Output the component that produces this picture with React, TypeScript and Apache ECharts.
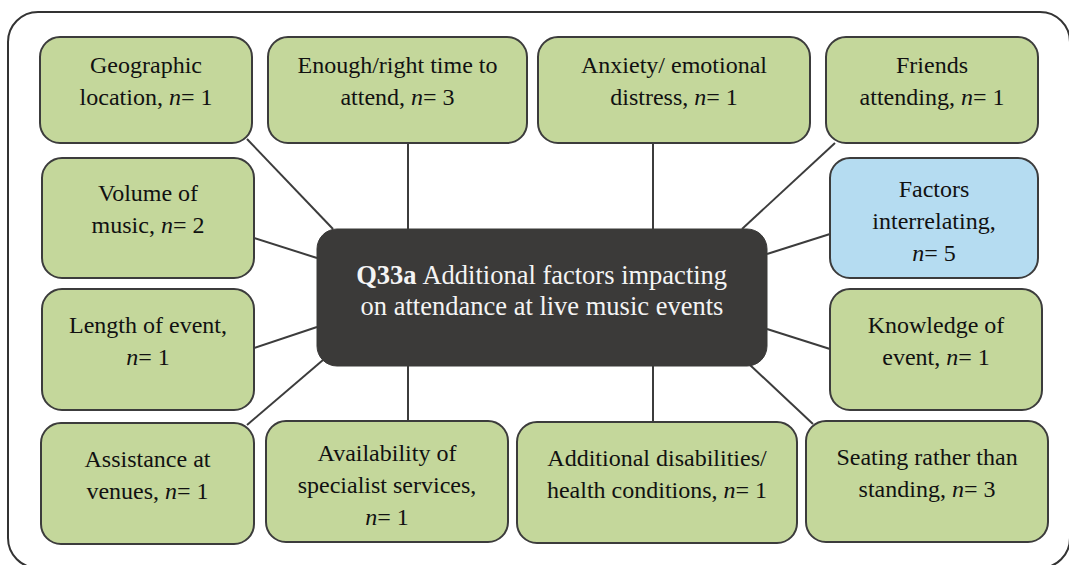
import React, { useEffect, useRef } from "react";
import * as echarts from "echarts";

// ---- Data ----
const centerCode = "Q33a";
const centerTitleLines = ["Additional factors impacting", "on attendance at live music events"];

const factorLabels = [
  "Geographic\nlocation",
  "Enough/right time to\nattend",
  "Anxiety/ emotional\ndistress",
  "Friends\nattending",
  "Volume of\nmusic",
  "Factors\ninterrelating",
  "Length of event",
  "Knowledge of\nevent",
  "Assistance at\nvenues",
  "Availability of\nspecialist services",
  "Additional disabilities/\nhealth conditions",
  "Seating rather than\nstanding",
];
const factorCounts = [1, 3, 1, 1, 2, 5, 1, 1, 1, 1, 1, 3];
const highlighted = [false, false, false, false, false, true, false, false, false, false, false, false];

// ---- Layout (positions / sizes) ----
const boxLayout = [
  { x: 40, y: 37, w: 212, h: 106, nBreak: false, link: [247, 139, 333, 229] },
  { x: 268, y: 37, w: 259, h: 106, nBreak: false, link: [408, 143, 408, 229] },
  { x: 538, y: 37, w: 272, h: 106, nBreak: false, link: [653, 143, 653, 229] },
  { x: 826, y: 37, w: 212, h: 106, nBreak: false, link: [835, 143, 742, 229] },
  { x: 42, y: 158, w: 212, h: 120, nBreak: false, link: [254, 238, 317, 258] },
  { x: 830, y: 158, w: 208, h: 120, nBreak: true, link: [767, 254, 830, 234] },
  { x: 42, y: 289, w: 212, h: 121, nBreak: true, link: [254, 348, 317, 327] },
  { x: 830, y: 289, w: 212, h: 121, nBreak: false, link: [767, 329, 830, 349] },
  { x: 41, y: 423, w: 213, h: 121, nBreak: false, link: [247, 425, 323, 360] },
  { x: 266, y: 421, w: 242, h: 121, nBreak: true, link: [408, 366, 408, 421] },
  { x: 517, y: 422, w: 280, h: 121, nBreak: false, link: [653, 366, 653, 422] },
  { x: 806, y: 421, w: 242, h: 121, nBreak: false, link: [813, 424, 750, 365] },
];
const centerBox = { x: 317, y: 229, w: 450, h: 137 };
const frame = { x: 8, y: 12, w: 1062, h: 556 };

const FONT = "Liberation Serif";
const GREEN = "#c4d79b";
const BLUE = "#b5dcf1";
const DARK = "#3b3a39";
const STROKE = "#3c3c3c";

export default function App() {
  const ref = useRef<HTMLDivElement>(null);

  useEffect(() => {
    if (!ref.current) return;
    const chart = echarts.init(ref.current, undefined, { renderer: "svg" });

    const elements: any[] = [];

    elements.push({
      type: "rect",
      shape: { x: frame.x, y: frame.y, width: frame.w, height: frame.h, r: 30 },
      style: { fill: "#ffffff", stroke: "#333333", lineWidth: 2 },
      z: 0,
    });

    boxLayout.forEach((b) => {
      const [x1, y1, x2, y2] = b.link;
      elements.push({
        type: "line",
        shape: { x1, y1, x2, y2 },
        style: { stroke: STROKE, lineWidth: 2 },
        z: 1,
      });
    });

    factorLabels.forEach((label, i) => {
      const b = boxLayout[i];
      elements.push({
        type: "rect",
        shape: { x: b.x, y: b.y, width: b.w, height: b.h, r: 20 },
        style: { fill: highlighted[i] ? BLUE : GREEN, stroke: STROKE, lineWidth: 2 },
        z: 2,
      });
      const text = label + "," + (b.nBreak ? "\n" : " ") + "{i|n}= " + factorCounts[i];
      const lines = text.split("\n").length;
      const cy = b.y + b.h / 2;
      elements.push({
        type: "text",
        x: b.x + b.w / 2,
        y: cy - (lines === 3 ? 45 : 41),
        style: {
          text,
          align: "center",
          verticalAlign: "top",
          fontFamily: FONT,
          fontSize: 24,
          lineHeight: 32,
          fill: "#111111",
          rich: {
            i: { fontStyle: "italic", fontFamily: FONT, fontSize: 24, lineHeight: 32, fill: "#111111" },
          },
        },
        z: 3,
      });
    });

    elements.push({
      type: "rect",
      shape: { x: centerBox.x, y: centerBox.y, width: centerBox.w, height: centerBox.h, r: 20 },
      style: { fill: DARK, stroke: DARK, lineWidth: 1 },
      z: 2,
    });
    elements.push({
      type: "text",
      x: centerBox.x + centerBox.w / 2,
      y: 259,
      style: {
        text: "{b|" + centerCode + "} " + centerTitleLines.join("\n"),
        align: "center",
        verticalAlign: "top",
        fontFamily: FONT,
        fontSize: 26.5,
        lineHeight: 31,
        fill: "#f4f4f4",
        rich: {
          b: { fontWeight: "bold", fontFamily: FONT, fontSize: 26.5, lineHeight: 31, fill: "#f4f4f4" },
        },
      },
      z: 3,
    });

    chart.setOption({
      animation: false,
      backgroundColor: "#ffffff",
      graphic: { elements },
    });

    return () => chart.dispose();
  }, []);

  return (
    <div
      ref={ref}
      style={{ position: "absolute", left: 0, top: 0, width: 1069, height: 565 }}
    />
  );
}
